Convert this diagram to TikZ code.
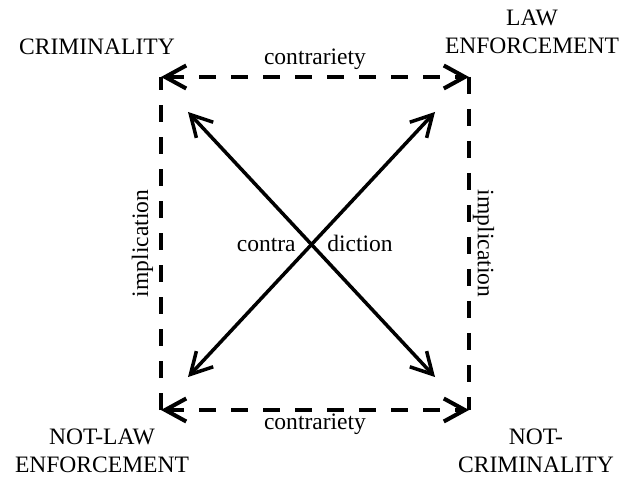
\documentclass[tikz,border=0pt]{standalone}
\usepackage{fontspec}
\setmainfont{Liberation Serif}
\usetikzlibrary{arrows.meta}
\begin{document}
\begin{tikzpicture}[font=\fontsize{13.4}{15.9}\selectfont,
                    >={Straight Barb[length=0.42cm,width=0.46cm]},
                    rel/.style={line width=2.3pt,dash pattern=on 0.34cm off 0.3cm},
                    opp/.style={line width=2pt}]
                    \useasboundingbox (0,0) rectangle (12.44,9.58);
                    % corners of the square
                    \coordinate (tl) at (3.22,8.04);
                    \coordinate (tr) at (9.38,8.04);
                    \coordinate (bl) at (3.22,1.38);
                    \coordinate (br) at (9.38,1.38);
                    % ends of the diagonals
                    \coordinate (dtl) at (3.76,7.34);
                    \coordinate (dtr) at (8.70,7.34);
                    \coordinate (dbl) at (3.76,2.04);
                    \coordinate (dbr) at (8.70,2.04);
                    \node (crim) at (1.94,8.64) {CRIMINALITY};
                    \node[align=center] (law) at (10.64,8.94) {LAW\\ENFORCEMENT};
                    \node[align=center] (notlaw) at (2.04,0.56) {NOT-LAW\\ENFORCEMENT};
                    \node[align=center] (notcrim) at (10.72,0.56) {NOT-\\CRIMINALITY};
                    \draw[rel,<->] (tl) -- node[above] {contrariety} (tr);
                    \draw[rel,<->] (bl) -- node[below,inner sep=1pt] {contrariety} (br);
                    \draw[rel] (bl) -- node[above,sloped] {implication} (tl);
                    \draw[rel] (tr) -- node[above,sloped,inner sep=1pt] {implication} (br);
                    \draw[opp,<->] (dtl) -- (dbr);
                    \draw[opp,<->] (dtr) -- (dbl);
                    \node[anchor=base east,inner sep=0pt] (contra) at (5.92,4.54) {contra};
                    \node[anchor=base west,inner sep=0pt] (diction) at (6.54,4.54) {diction};
                \end{tikzpicture}
\end{document}
